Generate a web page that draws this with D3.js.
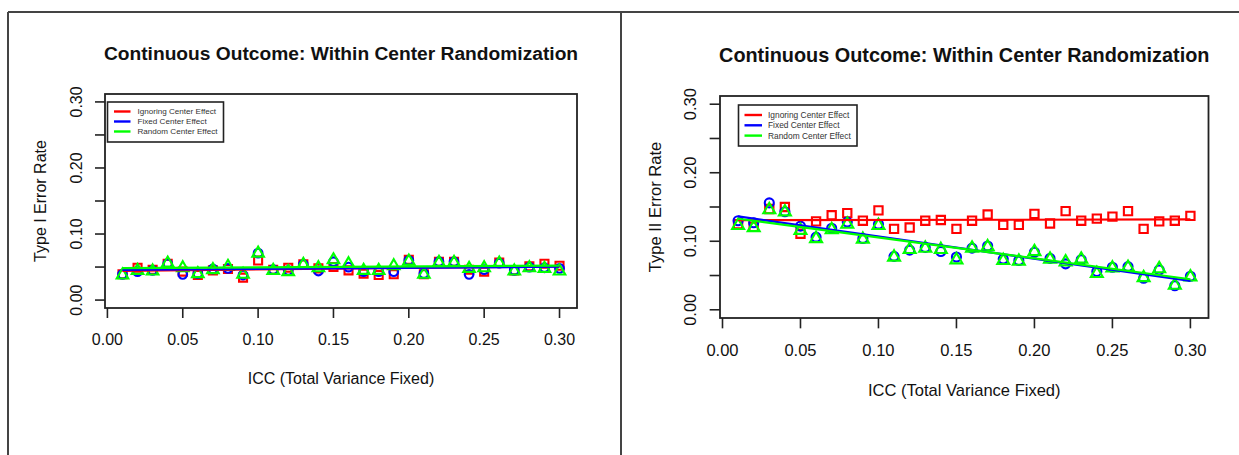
<!DOCTYPE html>
<html>
<head>
<meta charset="utf-8">
<script src="https://cdn.jsdelivr.net/npm/d3@7"></script>
<style>
  body { margin: 0; background: #fff; }
  svg { display: block; font-family: "Liberation Sans", Arial, sans-serif; }
</style>
</head>
<body>
<div id="chart"></div>
<script>
// ICC values on the x axis
var icc = [0.01, 0.02, 0.03, 0.04, 0.05, 0.06, 0.07, 0.08, 0.09, 0.10,
           0.11, 0.12, 0.13, 0.14, 0.15, 0.16, 0.17, 0.18, 0.19, 0.20,
           0.21, 0.22, 0.23, 0.24, 0.25, 0.26, 0.27, 0.28, 0.29, 0.30];

// left panel: type I error rate
var type1Ignoring = [0.039, 0.049, 0.046, 0.055, 0.043, 0.038, 0.045, 0.047, 0.034, 0.060,
                     0.046, 0.049, 0.054, 0.048, 0.050, 0.045, 0.040, 0.038, 0.039, 0.061,
                     0.039, 0.058, 0.058, 0.046, 0.043, 0.057, 0.045, 0.051, 0.055, 0.052];
var type1Fixed    = [0.039, 0.043, 0.045, 0.055, 0.039, 0.040, 0.047, 0.048, 0.038, 0.071,
                     0.046, 0.045, 0.054, 0.044, 0.058, 0.050, 0.043, 0.043, 0.043, 0.060,
                     0.040, 0.058, 0.058, 0.039, 0.046, 0.056, 0.045, 0.050, 0.049, 0.048];
var type1Random   = [0.039, 0.046, 0.045, 0.057, 0.050, 0.041, 0.047, 0.052, 0.040, 0.072,
                     0.046, 0.044, 0.055, 0.050, 0.062, 0.056, 0.046, 0.046, 0.053, 0.060,
                     0.040, 0.058, 0.058, 0.049, 0.050, 0.057, 0.045, 0.050, 0.049, 0.045];

// right panel: type II error rate
var type2Ignoring = [0.125, 0.121, 0.147, 0.150, 0.111, 0.129, 0.138, 0.141, 0.130, 0.145,
                     0.118, 0.120, 0.130, 0.131, 0.118, 0.130, 0.139, 0.124, 0.124, 0.140,
                     0.126, 0.144, 0.130, 0.133, 0.136, 0.144, 0.118, 0.129, 0.130, 0.137];
var type2Fixed    = [0.130, 0.127, 0.156, 0.143, 0.122, 0.106, 0.119, 0.128, 0.104, 0.125,
                     0.078, 0.087, 0.091, 0.085, 0.077, 0.090, 0.093, 0.074, 0.072, 0.084,
                     0.075, 0.067, 0.073, 0.056, 0.062, 0.063, 0.046, 0.058, 0.035, 0.049];
var type2Random   = [0.124, 0.121, 0.147, 0.144, 0.117, 0.105, 0.118, 0.126, 0.104, 0.124,
                     0.078, 0.089, 0.091, 0.089, 0.074, 0.091, 0.093, 0.073, 0.072, 0.086,
                     0.075, 0.071, 0.075, 0.054, 0.062, 0.063, 0.048, 0.061, 0.037, 0.049];

var xTicks = [0, 0.05, 0.10, 0.15, 0.20, 0.25, 0.30];
var yTicks = [0, 0.05, 0.10, 0.15, 0.20, 0.25, 0.30];
var yTickLabels = [0, 0.10, 0.20, 0.30];   // R drops the overlapping ones
var yLimits = [0, 0.30];
var legendLabels = ["Ignoring Center Effect", "Fixed Center Effect", "Random Center Effect"];
var seriesColors = ["#ff0000", "#0000ff", "#00ff00"];
var seriesShapes = [d3.symbolSquare, d3.symbolCircle, d3.symbolTriangle];

var W = 1239, H = 455;

var svg = d3.select("#chart").append("svg")
  .attr("width", W)
  .attr("height", H);

svg.append("rect").attr("width", W).attr("height", H).attr("fill", "#fff");

// outer frame of the screenshot
var frame = svg.append("g").attr("stroke", "#444").attr("stroke-width", 2).attr("fill", "none");
frame.append("line").attr("x1", 8).attr("y1", 12).attr("x2", W).attr("y2", 12);
frame.append("line").attr("x1", 8).attr("y1", 12).attr("x2", 8).attr("y2", H);
frame.append("line").attr("x1", 621).attr("y1", 12).attr("x2", 621).attr("y2", H);

function pad(ext) {
  var d = (ext[1] - ext[0]) * 0.04;
  return [ext[0] - d, ext[1] + d];
}

function linfit(xs, ys) {
  var mx = d3.mean(xs), my = d3.mean(ys);
  var sxy = d3.sum(xs, function(x, i) { return (x - mx) * (ys[i] - my); });
  var sxx = d3.sum(xs, function(x) { return (x - mx) * (x - mx); });
  var b = sxy / sxx;
  return function(x) { return my + b * (x - mx); };
}

function drawPanel(p) {
  var g = svg.append("g");
  var s = p.k; // size factor

  var x = d3.scaleLinear().domain(pad(d3.extent(icc))).range([p.l, p.r]);
  var y = d3.scaleLinear().domain(pad(yLimits)).range([p.b, p.t]);

  // title
  g.append("text")
    .attr("x", (p.l + p.r) / 2)
    .attr("y", p.titleY)
    .attr("dy", "0.35em")
    .attr("text-anchor", "middle")
    .attr("font-weight", "bold")
    .attr("font-size", 19.2 * s)
    .attr("fill", "#111")
    .text("Continuous Outcome: Within Center Randomization");

  // x axis
  var tick = 10 * s;
  g.selectAll(".xt").data(xTicks).enter().append("line")
    .attr("x1", function(d) { return x(d); })
    .attr("x2", function(d) { return x(d); })
    .attr("y1", p.b).attr("y2", p.b + tick)
    .attr("stroke", "#222").attr("stroke-width", 1.6);
  g.selectAll(".xl").data(xTicks).enter().append("text")
    .attr("x", function(d) { return x(d); })
    .attr("y", p.xLabY)
    .attr("dy", "0.35em")
    .attr("text-anchor", "middle")
    .attr("font-size", 16 * s)
    .attr("fill", "#111")
    .text(function(d) { return d.toFixed(2); });
  g.append("text")
    .attr("x", (p.l + p.r) / 2)
    .attr("y", p.xTitleY)
    .attr("dy", "0.35em")
    .attr("text-anchor", "middle")
    .attr("font-size", 16 * s)
    .attr("fill", "#111")
    .text("ICC (Total Variance Fixed)");

  // y axis
  g.selectAll(".yt").data(yTicks).enter().append("line")
    .attr("x1", p.l - tick).attr("x2", p.l)
    .attr("y1", function(d) { return y(d); })
    .attr("y2", function(d) { return y(d); })
    .attr("stroke", "#222").attr("stroke-width", 1.6);
  g.selectAll(".yl").data(yTickLabels).enter().append("text")
    .attr("transform", function(d) { return "translate(" + p.yLabX + "," + y(d) + ") rotate(-90)"; })
    .attr("dy", "0.35em")
    .attr("text-anchor", "middle")
    .attr("font-size", 16 * s)
    .attr("fill", "#111")
    .text(function(d) { return d.toFixed(2); });
  g.append("text")
    .attr("transform", "translate(" + p.yTitleX + "," + (p.t + p.b) / 2 + ") rotate(-90)")
    .attr("dy", "0.35em")
    .attr("text-anchor", "middle")
    .attr("font-size", 16 * s)
    .attr("fill", "#111")
    .text(p.ylab);

  // box
  g.append("rect")
    .attr("x", p.l).attr("y", p.t)
    .attr("width", p.r - p.l).attr("height", p.b - p.t)
    .attr("fill", "none").attr("stroke", "#222").attr("stroke-width", 1.8);

  // points, red then blue then green on top
  p.series.forEach(function(vals, si) {
    var sym = d3.symbol().type(seriesShapes[si])
      .size(si === 0 ? 64 * s * s : si === 1 ? 60 * s * s : 58 * s * s);
    g.selectAll(".pt" + si).data(vals).enter().append("path")
      .attr("d", sym)
      .attr("transform", function(d, i) {
        var dy = si === 2 ? 0.8 : 0;
        return "translate(" + x(icc[i]) + "," + (y(d) + dy) + ")";
      })
      .attr("fill", "none")
      .attr("stroke", seriesColors[si])
      .attr("stroke-width", 2.1);
  });

  // fitted lines
  var ends = d3.extent(icc);
  p.series.forEach(function(vals, si) {
    var f = linfit(icc, vals);
    g.append("line")
      .attr("x1", x(ends[0])).attr("y1", y(f(ends[0])))
      .attr("x2", x(ends[1])).attr("y2", y(f(ends[1])))
      .attr("stroke", seriesColors[si])
      .attr("stroke-width", 2.2);
  });

  // legend
  var L = p.leg;
  var lg = g.append("g");
  lg.append("rect")
    .attr("x", L.x).attr("y", L.y)
    .attr("width", L.w).attr("height", L.h)
    .attr("fill", "#fff").attr("stroke", "#222").attr("stroke-width", 1.6);
  legendLabels.forEach(function(lab, i) {
    var yy = L.y + L.first + i * L.step;
    lg.append("line")
      .attr("x1", L.lx1).attr("x2", L.lx2)
      .attr("y1", yy).attr("y2", yy)
      .attr("stroke", seriesColors[i]).attr("stroke-width", 2.4);
    lg.append("text")
      .attr("x", L.tx).attr("y", yy)
      .attr("dy", "0.35em")
      .attr("font-size", L.fs)
      .attr("fill", "#333")
      .text(lab);
  });
}

drawPanel({
  l: 105, r: 577, t: 94, b: 308, k: 1,
  titleY: 53, xLabY: 339, xTitleY: 378, yLabX: 76, yTitleX: 40,
  ylab: "Type I Error Rate",
  series: [type1Ignoring, type1Fixed, type1Random],
  leg: { x: 107.5, y: 102, w: 116, h: 40, first: 9.5, step: 10,
         lx1: 114, lx2: 130.5, tx: 137.5, fs: 8.1 }
});

drawPanel({
  l: 720, r: 1208.5, t: 96, b: 318, k: 1.034,
  titleY: 55, xLabY: 350, xTitleY: 390, yLabX: 690, yTitleX: 655,
  ylab: "Type II Error Rate",
  series: [type2Ignoring, type2Fixed, type2Random],
  leg: { x: 738.5, y: 105, w: 118.5, h: 41, first: 10, step: 10.3,
         lx1: 744.5, lx2: 762, tx: 768, fs: 8.4 }
});
</script>
</body>
</html>
